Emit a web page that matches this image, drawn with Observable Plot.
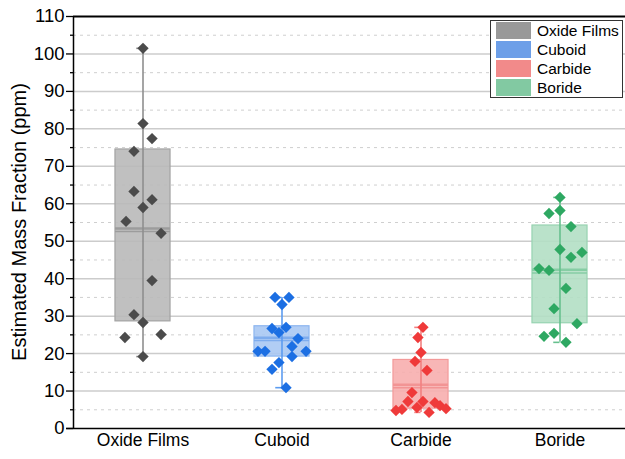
<!DOCTYPE html>
<html>
<head>
<meta charset="utf-8">
<script src="https://cdn.jsdelivr.net/npm/d3@7"></script>
<script src="https://cdn.jsdelivr.net/npm/@observablehq/plot@0.6"></script>
<style>
  html, body { margin: 0; padding: 0; background: #fff; }
  #wrap { position: relative; width: 625px; height: 459px; font-family: "Liberation Sans", Arial, sans-serif; }
  #legend { position: absolute; left: 490px; top: 20px; width: 131px; height: 76px; border: 1px solid #333; background: #fff; }
  .row { position: absolute; left: 5px; height: 18px; }
  .sw { position: absolute; left: 0; top: 0; width: 35px; height: 17px; }
  .lb { position: absolute; left: 41px; top: -1px; font-size: 15.5px; color: #000; white-space: nowrap; line-height: 19px; }
  #ylab { position: absolute; left: 19px; top: 222px; transform: translate(-50%, -50%) rotate(-90deg); font-size: 20px; white-space: nowrap; color: #000; }
</style>
</head>
<body>
<div id="wrap"><div id="chart"></div><div id="ylab">Estimated Mass Fraction (ppm)</div><div id="legend"></div></div>
<script>
const categories = ["Oxide Films", "Cuboid", "Carbide", "Boride"];

const oxideValues   = [101.5, 81.4, 77.4, 74.0, 63.3, 61.1, 59.0, 55.3, 52.1, 39.5, 30.4, 28.3, 25.1, 24.3, 19.2];
const oxideJitter   = [0, 0, 0.065, -0.065, -0.065, 0.065, 0, -0.122, 0.13, 0.065, -0.065, 0, 0.13, -0.13, 0];
const cuboidValues  = [35.0, 35.0, 33.1, 26.7, 25.6, 27.0, 24.0, 21.9, 20.6, 20.6, 20.6, 19.2, 17.6, 15.8, 10.9];
const cuboidJitter  = [-0.05, 0.05, 0, -0.072, -0.022, 0.029, 0.115, 0.072, 0.173, -0.173, -0.122, 0.072, -0.022, -0.072, 0.029];
const carbideValues = [27.0, 24.3, 20.3, 17.9, 15.5, 9.6, 7.2, 7.2, 5.6, 6.9, 6.1, 5.3, 5.1, 4.8, 4.3];
const carbideJitter = [0.014, -0.022, 0, -0.043, 0.043, -0.065, -0.094, 0.014, -0.029, 0.1, 0.137, 0.18, -0.137, -0.18, 0.058];
const borideValues  = [61.7, 57.4, 58.2, 53.9, 47.8, 45.7, 47.0, 42.7, 42.2, 37.4, 32.0, 28.0, 25.4, 24.6, 23.0];
const borideJitter  = [0, -0.079, 0, 0.079, 0, 0.079, 0.158, -0.151, -0.079, 0.043, -0.043, 0.122, -0.043, -0.115, 0.043];

// box statistics as drawn
const q1Values     = [28.6, 19.2, 5.3, 28.1];
const q3Values     = [74.5, 27.3, 18.3, 54.2];
const medianValues = [53.4, 24.2, 11.7, 42.4];
const meanValues   = [52.6, 23.5, 10.9, 41.5];
const whiskerLow   = [19.2, 10.9, 4.3, 23.0];
const whiskerHigh  = [101.5, 35.0, 27.0, 61.7];

const majorTicks = [0, 10, 20, 30, 40, 50, 60, 70, 80, 90, 100, 110];
const minorTicks = [5, 15, 25, 35, 45, 55, 65, 75, 85, 95, 105];

const pointColors = ["#4b4b4b", "#1c6fe3", "#ef3a3a", "#2ea862"];
const boxFill     = ["#b9b9b9", "#a9c8f3", "#f7aeae", "#b2dfc4"];
const boxEdge     = ["#a3a3a3", "#8db6ef", "#f39a9a", "#97d3b1"];
const lineColors  = ["#8f8f8f", "#5c9cf0", "#f28080", "#67c08e"];
const medColors   = ["#9c9c9c", "#7eaced", "#f29494", "#86cda4"];
const legendColors = ["#999999", "#6d9fe8", "#f28a8a", "#82c9a2"];

const groups = [
  [oxideValues, oxideJitter],
  [cuboidValues, cuboidJitter],
  [carbideValues, carbideJitter],
  [borideValues, borideJitter]
];
const points = groups.flatMap(([vals, jit], i) => vals.map((v, j) => ({ i, x: i + jit[j], y: v })));
const boxes = categories.map((c, i) => ({
  i, q1: q1Values[i], q3: q3Values[i], med: medianValues[i], mean: meanValues[i],
  lo: whiskerLow[i], hi: whiskerHigh[i]
}));
const halfW = 0.198;

const chart = Plot.plot({
  width: 625,
  height: 459,
  marginTop: 16,
  marginBottom: 31,
  marginLeft: 73,
  marginRight: 0,
  style: { fontFamily: "'Liberation Sans', Arial, sans-serif", background: "#fff", overflow: "visible" },
  x: { domain: [-0.5, 3.5], range: [73, 629] },
  y: { domain: [0, 110] },
  marks: [
    Plot.ruleY(minorTicks, { stroke: "#cfcfcf", strokeWidth: 1, strokeDasharray: "3,4" }),
    Plot.ruleY(majorTicks.filter(d => d > 0 && d < 110), { stroke: "#cccccc", strokeWidth: 1.5 }),
    Plot.rectY(boxes, { x1: d => d.i - halfW, x2: d => d.i + halfW, y1: "q1", y2: "q3",
      fill: d => boxFill[d.i], stroke: d => boxEdge[d.i], strokeWidth: 1.2, fillOpacity: 0.9 }),
    Plot.ruleY(boxes, { x1: d => d.i - halfW, x2: d => d.i + halfW, y: "med", stroke: d => medColors[d.i], strokeWidth: 2.5 }),
    Plot.ruleY(boxes, { x1: d => d.i - halfW, x2: d => d.i + halfW, y: "mean", stroke: d => medColors[d.i], strokeWidth: 1.5 }),
    Plot.ruleX(boxes, { x: "i", y1: "lo", y2: "hi", stroke: d => lineColors[d.i], strokeWidth: 1.6 }),
    Plot.ruleY(boxes, { x1: d => d.i - 0.045, x2: "i", y: "lo", stroke: d => lineColors[d.i], strokeWidth: 1.6 }),
    Plot.ruleY(boxes, { x1: d => d.i - 0.045, x2: "i", y: "hi", stroke: d => lineColors[d.i], strokeWidth: 1.6 }),
    Plot.dot(points, { x: "x", y: "y", symbol: "diamond2", r: 5.1, fill: d => pointColors[d.i], stroke: "none" }),
    Plot.ruleY([110], { stroke: "#000", strokeWidth: 2 }),
    Plot.ruleX([-0.5], { stroke: "#000", strokeWidth: 1.5 }),
    Plot.axisY(minorTicks, { tickSize: 3, tickFormat: () => "", stroke: "#000", strokeWidth: 1.3 }),
    Plot.axisY(majorTicks, { tickSize: 7, tickPadding: 2, fontSize: 18.5, fill: "#000", stroke: "#000", strokeWidth: 1.3 }),
    Plot.ruleY([0], { x1: -0.549, x2: 3.5, stroke: "#000", strokeWidth: 1.6 }),
    Plot.axisX([0, 1, 2, 3], { tickSize: 0, tickPadding: 5, fontSize: 17.5, fill: "#000", tickFormat: i => categories[i] })
  ]
});
document.getElementById("chart").appendChild(chart);

const legend = document.getElementById("legend");
categories.forEach((c, i) => {
  const row = document.createElement("div");
  row.className = "row";
  row.style.top = (1 + i * 19) + "px";
  row.innerHTML = `<div class="sw" style="background:${legendColors[i]}"></div><div class="lb">${c}</div>`;
  legend.appendChild(row);
});
</script>
</body>
</html>
